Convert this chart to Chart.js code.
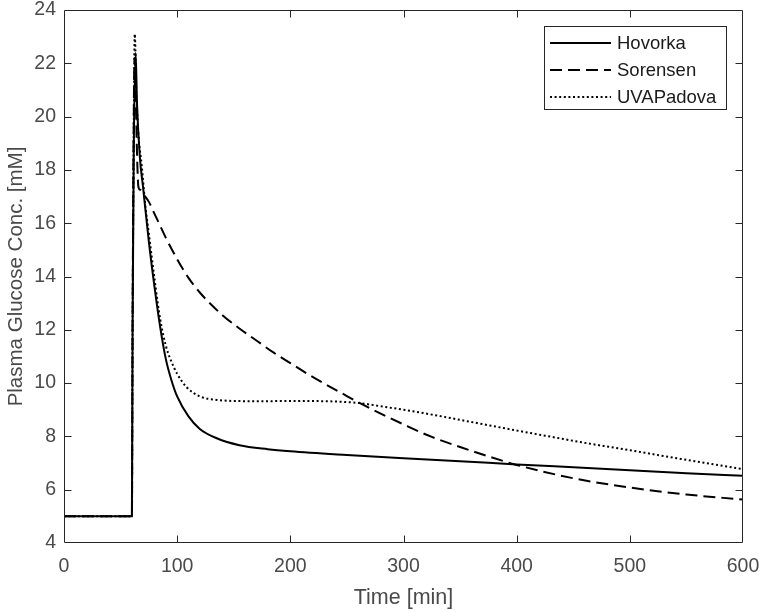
<!DOCTYPE html>
<html><head><meta charset="utf-8">
<script src="https://cdn.jsdelivr.net/npm/chart.js@4/dist/chart.umd.min.js"></script>
<style>html,body{margin:0;padding:0;background:#fff}#wrap{width:761px;height:612px}</style>
</head><body><div id="wrap"><canvas id="c" width="761" height="612"></canvas></div>
<script>
const seriesNames = ['Hovorka', 'Sorensen', 'UVAPadova'];

const hovorkaTime    = [0, 60, 60.6, 61.6, 63.3, 64.5, 67, 70, 75, 80, 85, 90, 95, 100, 110, 120, 135, 155, 180, 200, 250, 300, 350, 400, 450, 500, 550, 600];
const hovorkaGlucose = [5, 5, 12, 18.5, 22.4, 20.5, 18.5, 17.3, 15.3, 13.6, 12.1, 10.9, 10.1, 9.5, 8.75, 8.28, 7.93, 7.67, 7.52, 7.44, 7.3, 7.18, 7.07, 6.95, 6.84, 6.73, 6.62, 6.52];

const sorensenTime    = [0, 60, 60.6, 61.4, 62.3, 63.5, 64.8, 65.8, 67.5, 70, 75, 80, 85, 90, 100, 110, 120, 130, 140, 155, 170, 185, 200, 215, 230, 245, 265, 285, 300, 325, 350, 375, 400, 450, 500, 550, 600];
const sorensenGlucose = [5, 5, 12, 18.5, 22.2, 20.5, 18.2, 17.35, 17.25, 17.1, 16.8, 16.35, 15.9, 15.45, 14.65, 13.95, 13.4, 12.95, 12.55, 12.05, 11.6, 11.15, 10.75, 10.35, 9.98, 9.63, 9.17, 8.75, 8.45, 7.98, 7.6, 7.25, 6.93, 6.43, 6.08, 5.82, 5.63];

const uvaTime    = [0, 60, 60.6, 61.5, 62.5, 64, 66, 68.6, 72, 75, 80, 85, 90, 94, 100, 108, 120, 135, 150, 175, 200, 230, 259, 280, 306, 330, 350, 375, 400, 430, 460, 500, 550, 600];
const uvaGlucose = [5, 5, 12, 18.5, 23.1, 20.8, 19.2, 18.2, 16.6, 15.6, 13.9, 12.4, 11.4, 10.9, 10.35, 9.86, 9.5, 9.37, 9.33, 9.32, 9.33, 9.32, 9.26, 9.13, 8.96, 8.78, 8.62, 8.42, 8.22, 7.99, 7.76, 7.48, 7.12, 6.77];

const xTickValues = [0, 100, 200, 300, 400, 500, 600];
const yTickValues = [4, 6, 8, 10, 12, 14, 16, 18, 20, 22, 24];
const xAxisTitle = 'Time [min]';
const yAxisTitle = 'Plasma Glucose Conc. [mM]';

const FONT = '"Liberation Sans", Arial, Helvetica, sans-serif';
const AXIS_COLOR = '#262626';
const TEXT_COLOR = '#4a4a4a';

function toPoints(ts, vs) { return ts.map((t, i) => ({x: t, y: vs[i]})); }

const styles = [
  {borderDash: [], borderWidth: 2},
  {borderDash: [12, 6], borderWidth: 2},
  {borderDash: [2, 2.6], borderWidth: 2}
];
const seriesData = [toPoints(hovorkaTime, hovorkaGlucose), toPoints(sorensenTime, sorensenGlucose), toPoints(uvaTime, uvaGlucose)];

const datasets = seriesNames.map((name, i) => ({
  label: name,
  data: seriesData[i],
  borderColor: '#000',
  backgroundColor: '#000',
  borderWidth: styles[i].borderWidth,
  borderDash: styles[i].borderDash,
  pointRadius: 0,
  fill: false,
  cubicInterpolationMode: 'monotone',
  order: 3 - i
}));

const boxPlugin = {
  id: 'matlabBox',
  afterDatasetsDraw(chart) {
    const {ctx, chartArea: a, scales: {x, y}} = chart;
    ctx.save();
    ctx.strokeStyle = AXIS_COLOR;
    ctx.lineWidth = 1;
    const L = Math.round(a.left) + 0.5, R = Math.round(a.right) - 0.5;
    const T = Math.round(a.top) + 0.5, B = Math.round(a.bottom) - 0.5;
    ctx.beginPath();
    ctx.rect(L, T, R - L, B - T);
    const tl = 7;
    xTickValues.forEach(v => {
      const p = Math.round(x.getPixelForValue(v)) + 0.5;
      if (p <= L + 1 || p >= R - 1) return;
      ctx.moveTo(p, B); ctx.lineTo(p, B - tl);
      ctx.moveTo(p, T); ctx.lineTo(p, T + tl);
    });
    yTickValues.forEach(v => {
      const p = Math.round(y.getPixelForValue(v)) + 0.5;
      if (p <= T + 1 || p >= B - 1) return;
      ctx.moveTo(L, p); ctx.lineTo(L + tl, p);
      ctx.moveTo(R, p); ctx.lineTo(R - tl, p);
    });
    ctx.stroke();

    // legend
    const lx = 544.5, ly = 26.5, lw = 182, lh = 83;
    ctx.fillStyle = '#fff';
    ctx.fillRect(lx, ly, lw, lh);
    ctx.strokeStyle = AXIS_COLOR;
    ctx.lineWidth = 1;
    ctx.strokeRect(lx, ly, lw, lh);
    ctx.font = '18.5px ' + FONT;
    ctx.textBaseline = 'middle';
    ctx.textAlign = 'left';
    chart.data.datasets.forEach((ds, i) => {
      const cy = 43 + 27 * i;
      ctx.save();
      ctx.strokeStyle = '#000';
      ctx.lineWidth = ds.borderWidth;
      ctx.setLineDash(ds.borderDash || []);
      ctx.beginPath();
      ctx.moveTo(550, cy); ctx.lineTo(611, cy);
      ctx.stroke();
      ctx.restore();
      ctx.fillStyle = '#1a1a1a';
      ctx.fillText(ds.label, 617, cy + 1);
    });
    ctx.restore();
  }
};

new Chart(document.getElementById('c'), {
  type: 'line',
  data: {datasets},
  options: {
    responsive: false,
    animation: false,
    devicePixelRatio: 1,
    layout: {padding: {top: 10, right: 18, left: 0, bottom: 0}},
    plugins: {legend: {display: false}, tooltip: {enabled: false}},
    scales: {
      x: {
        type: 'linear', min: 0, max: 600,
        afterBuildTicks(s) { s.ticks = xTickValues.map(v => ({value: v})); },
        ticks: {color: TEXT_COLOR, font: {family: FONT, size: 19.5}, padding: 12, maxRotation: 0},
        grid: {display: false, drawTicks: false},
        border: {display: false},
        title: {display: true, text: xAxisTitle, color: TEXT_COLOR, font: {family: FONT, size: 21.5}, padding: {top: 0, bottom: 1}},
        afterFit(s) { s.height = 69; s.paddingLeft = 0; s.paddingRight = 0; }
      },
      y: {
        type: 'linear', min: 4, max: 24,
        afterBuildTicks(s) { s.ticks = yTickValues.map(v => ({value: v})); },
        ticks: {color: TEXT_COLOR, font: {family: FONT, size: 19.5}, padding: 8},
        grid: {display: false, drawTicks: false},
        border: {display: false},
        title: {display: true, text: yAxisTitle, color: TEXT_COLOR, font: {family: FONT, size: 20.5}, padding: {top: 4, bottom: 0}},
        afterFit(s) { s.width = 64; s.paddingTop = 0; s.paddingBottom = 0; }
      }
    }
  },
  plugins: [boxPlugin]
});
</script></body></html>
